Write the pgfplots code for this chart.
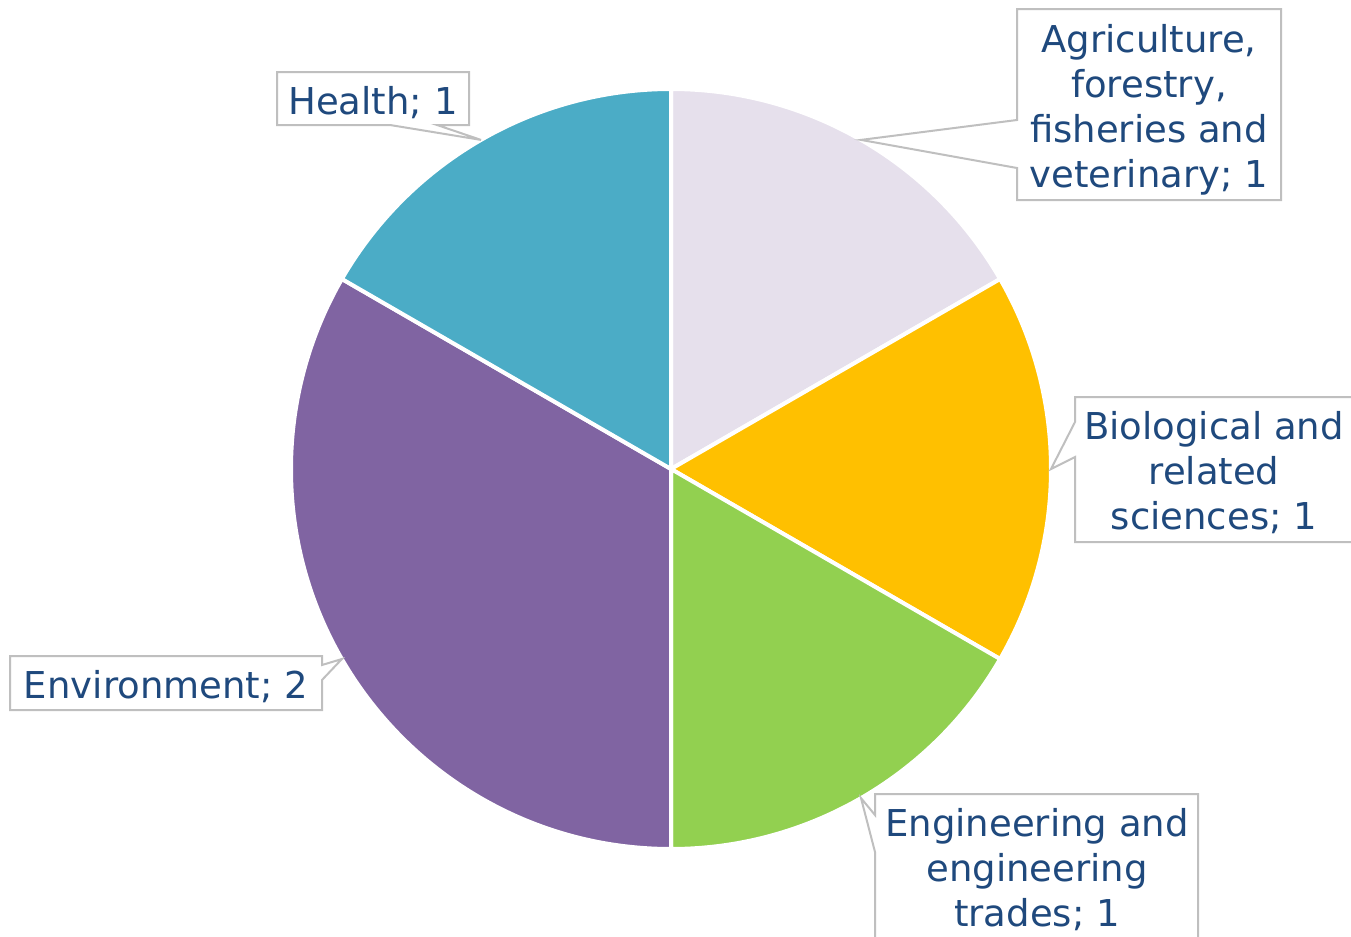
\documentclass[border=0pt]{standalone}
\usepackage{pgfplots}
\usepackage{pgfplotstable}
\pgfplotsset{compat=1.18}
\usepackage{fontspec}
\setmainfont{DejaVu Sans}

\definecolor{slice0}{HTML}{E6E0EC}
\definecolor{slice1}{HTML}{FFC000}
\definecolor{slice2}{HTML}{92D050}
\definecolor{slice3}{HTML}{8064A2}
\definecolor{slice4}{HTML}{4BACC6}
\definecolor{labtxt}{HTML}{1F497D}
\definecolor{labline}{HTML}{BFBFBF}

% slices in clockwise order starting at 12 o'clock
\pgfplotstableread[col sep=comma]{
label,value
Agriculture,1
Biological,1
Engineering,1
Environment,2
Health,1
}\piedata

% total
\xdef\total{0}
\pgfplotstableforeachcolumnelement{value}\of\piedata\as\v{%
  \pgfmathparse{\total+\v}\xdef\total{\pgfmathresult}}
% start / end / mid angles and pointer tips (pixel units, centre 671,469, radius 380)
\xdef\curang{90}
\pgfplotstableforeachcolumnelement{value}\of\piedata\as\v{%
  \pgfmathparse{\curang-360*\v/\total}\xdef\endang{\pgfmathresult}%
  \expandafter\xdef\csname sa\pgfplotstablerow\endcsname{\curang}%
  \expandafter\xdef\csname ea\pgfplotstablerow\endcsname{\endang}%
  \pgfmathparse{(\curang+\endang)/2}\xdef\midang{\pgfmathresult}%
  \pgfmathparse{671+380*cos(\midang)}\expandafter\xdef\csname tx\pgfplotstablerow\endcsname{\pgfmathresult}%
  \pgfmathparse{469-380*sin(\midang)}\expandafter\xdef\csname ty\pgfplotstablerow\endcsname{\pgfmathresult}%
  \xdef\curang{\endang}%
}
\newcommand{\tip}[1]{(axis cs:\csname tx#1\endcsname,\csname ty#1\endcsname)}

\begin{document}
\begin{tikzpicture}
\begin{axis}[
  name=ax,
  hide axis,
  x=0.5pt, y=0.5pt,
  xmin=0, xmax=1351, ymin=0, ymax=937,
  y dir=reverse,
  clip=false,
]
\pgfplotsinvokeforeach{0,...,4}{
  \filldraw[fill=slice#1, draw=white, line width=2pt, line join=round]
    (axis cs:671,469) -- ++(\csname sa#1\endcsname:190pt)
    arc[start angle=\csname sa#1\endcsname, end angle=\csname ea#1\endcsname, radius=190pt] -- cycle;
}
% callouts
\begin{scope}[draw=labline, fill=white, line width=1pt, line join=miter]
\filldraw (axis cs:1017,9) -- (axis cs:1281,9) -- (axis cs:1281,200) -- (axis cs:1017,200)
   -- (axis cs:1017,168) -- \tip{0} -- (axis cs:1017,120) -- cycle;
\filldraw (axis cs:1075,397) -- (axis cs:1365,397) -- (axis cs:1365,542) -- (axis cs:1075,542)
   -- (axis cs:1075,457) -- \tip{1} -- (axis cs:1075,422) -- cycle;
\filldraw (axis cs:875,794) -- (axis cs:1198,794) -- (axis cs:1198,950) -- (axis cs:875,950)
   -- (axis cs:875,852) -- \tip{2} -- (axis cs:875,815) -- cycle;
\filldraw (axis cs:10,656) -- (axis cs:322,656) -- (axis cs:322,665) -- \tip{3}
   -- (axis cs:322,680) -- (axis cs:322,710) -- (axis cs:10,710) -- cycle;
\filldraw (axis cs:277,72) -- (axis cs:469,72) -- (axis cs:469,125) -- (axis cs:437,125)
   -- \tip{4} -- (axis cs:390,125) -- (axis cs:277,125) -- cycle;
\end{scope}
\begin{scope}[every node/.style={text=labtxt, align=center, inner sep=0pt,
   font=\fontsize{18.5}{22.5}\selectfont}]
\node at (axis cs:1149,110) {Agriculture,\\forestry,\\fisheries and\\veterinary; 1};
\node at (axis cs:1214,473) {Biological and\\related\\sciences; 1};
\node[anchor=north] at (axis cs:1037,808) {Engineering and\\engineering\\trades; 1};
\node at (axis cs:166,687) {Environment; 2};
\node at (axis cs:373,103) {Health; 1};
\end{scope}
\end{axis}
\pgfresetboundingbox
\useasboundingbox (ax.south west) rectangle (ax.north east);
\end{tikzpicture}
\end{document}
